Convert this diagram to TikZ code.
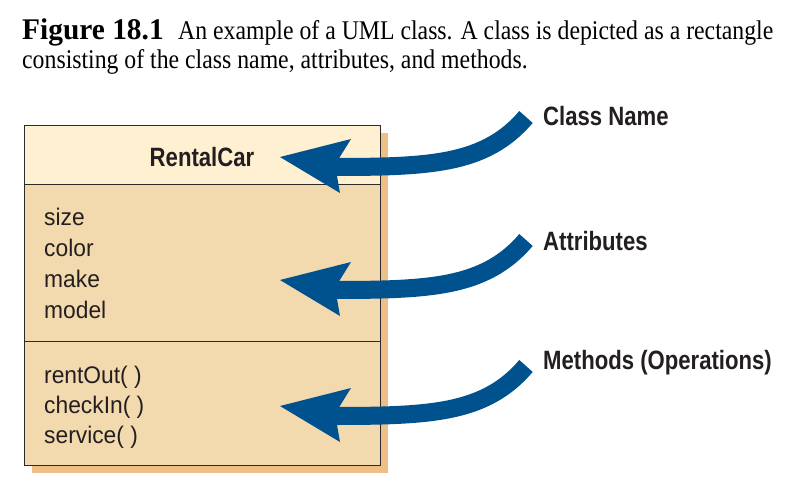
\documentclass[tikz,border=0pt]{standalone}
\usepackage{fontspec}
\setmainfont{Liberation Serif}
\newfontfamily\capfont[FakeStretch=0.88]{Liberation Serif}
\newfontfamily\figfont[FakeStretch=0.98]{Liberation Serif Bold}
\newfontfamily\condreg[FakeStretch=0.95]{Liberation Sans}
\newfontfamily\condbold[FakeStretch=0.835]{Liberation Sans Bold}
\definecolor{cream}{HTML}{FEF0D0}
\definecolor{tanbox}{HTML}{F3D9AE}
\definecolor{shadowc}{HTML}{EEBF86}
\definecolor{arrowblue}{HTML}{00528F}
\definecolor{txt}{HTML}{231F20}
\definecolor{edge}{HTML}{2A2A2A}
\tikzset{
  compart/.style={draw=edge, line width=1.4pt, anchor=north west, minimum width=356pt, inner sep=0pt},
  caption/.style={anchor=base west, inner sep=0pt, font=\capfont\fontsize{27}{30}\selectfont},
  label/.style={anchor=base west, inner sep=0pt, text=txt, font=\condbold\fontsize{26.5}{30}\selectfont},
  member/.style={anchor=base west, inner sep=0pt, text=txt, font=\condreg\fontsize{24}{28}\selectfont},
  bigarrow/.pic={
    \draw[arrowblue, line width=18pt, line cap=butt] (246,-40) .. controls (205,8) and (150,10) .. (50,10);
    \fill[arrowblue] (0,0) -- (71,-18) -- (58,3) -- (57,19) -- (60,36) -- cycle;
  }
}
\begin{document}
\begin{tikzpicture}[x=1pt,y=-1pt]
\useasboundingbox (0,0) rectangle (800,498);
% title
\node[anchor=base west, inner sep=0pt, font=\figfont\fontsize{30}{32}\selectfont] (figno) at (22,39.5) {Figure 18.1};
\node[caption] (cap1) at (178,39.5) {An example of a UML class. A class is depicted as a rectangle};
\node[caption] (cap2) at (22,68) {consisting of the class name, attributes, and methods.};
% shadow
\fill[shadowc] (32,133) rectangle (388,473);
% compartments
\node[compart, fill=cream, minimum height=59pt] (namebox) at (24,125) {};
\node[compart, fill=tanbox, minimum height=157pt] (attrbox) at (24,184) {};
\node[compart, fill=tanbox, minimum height=124pt] (methbox) at (24,341) {};
% texts
\node[anchor=base, inner sep=0pt, text=txt, font=\condbold\fontsize{26.5}{30}\selectfont] (cname) at (202,166) {RentalCar};
\node[member] (a1) at (44,225) {size};
\node[member] (a2) at (44,256) {color};
\node[member] (a3) at (44,287) {make};
\node[member] (a4) at (44,318) {model};
\node[member] (m1) at (44,383) {rentOut( )};
\node[member] (m2) at (44,413) {checkIn( )};
\node[member] (m3) at (44,443) {service( )};
% labels
\node[label] (lname) at (543,125) {Class Name};
\node[label] (lattr) at (543,250) {Attributes};
\node[label] (lmeth) at (543,369) {Methods (Operations)};
% arrows
\coordinate (tip1) at (280,157);
\coordinate (tip2) at (280,280);
\coordinate (tip3) at (280,406);
\pic at (tip1) {bigarrow};
\pic at (tip2) {bigarrow};
\pic at (tip3) {bigarrow};
\end{tikzpicture}
\end{document}
